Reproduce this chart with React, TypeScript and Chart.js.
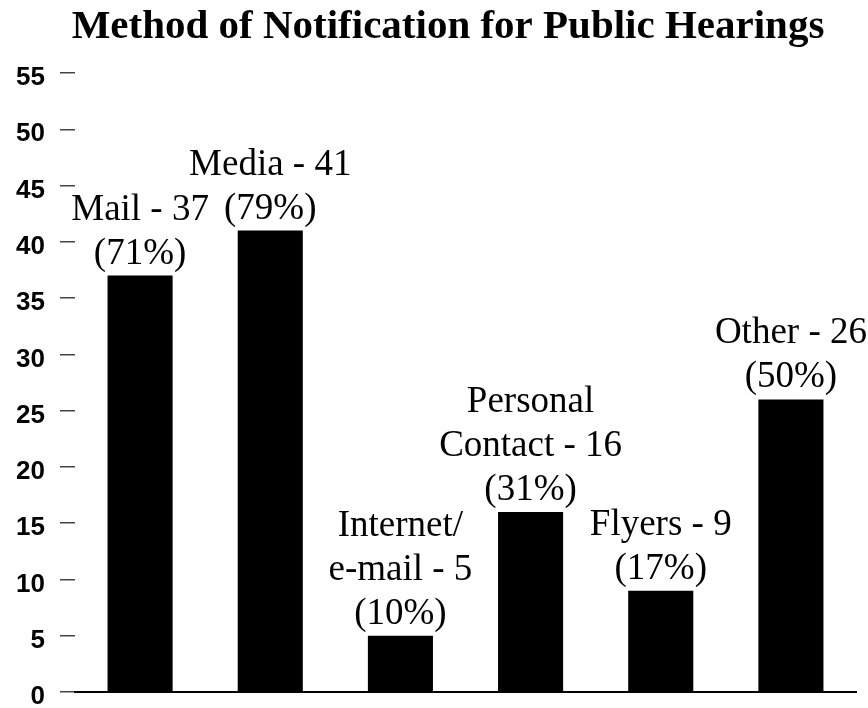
import { useEffect, useRef } from "react";
import { Chart, registerables } from "chart.js";

Chart.register(...registerables);

const TITLE = "Method of Notification for Public Hearings";
const categoryLines: string[][] = [
  ["Mail"],
  ["Media"],
  ["Internet/", "e-mail"],
  ["Personal", "Contact"],
  ["Flyers"],
  ["Other"],
];
const counts = [37, 41, 5, 16, 9, 26];
const percents = [71, 79, 10, 31, 17, 50];
const yMin = 0;
const yMax = 55;
const yStep = 5;

const labelFont = '37px "Liberation Serif", "Times New Roman", serif';

const barLabelPlugin = {
  id: "barLabels",
  afterDatasetsDraw(chart: any) {
    const ctx = chart.ctx;
    const meta = chart.getDatasetMeta(0);
    ctx.save();
    ctx.font = labelFont;
    ctx.fillStyle = "#000";
    ctx.textAlign = "center";
    ctx.textBaseline = "alphabetic";
    meta.data.forEach((el: any, i: number) => {
      const name = categoryLines[i];
      const lines = [
        ...name.slice(0, -1),
        `${name[name.length - 1]} - ${counts[i]}`,
        `(${percents[i]}%)`,
      ];
      const lh = 44;
      let y = el.y - 12;
      for (let k = lines.length - 1; k >= 0; k--) {
        ctx.fillText(lines[k], el.x, y);
        y -= lh;
      }
    });
    ctx.restore();
  },
};

const titlePlugin = {
  id: "customTitle",
  afterDraw(chart: any) {
    const ctx = chart.ctx;
    ctx.save();
    ctx.font = 'bold 41px "Liberation Serif", "Times New Roman", serif';
    ctx.fillStyle = "#000";
    ctx.textAlign = "center";
    ctx.textBaseline = "alphabetic";
    ctx.fillText(TITLE, 448, 38);
    ctx.restore();
  },
};

export default function App() {
  const ref = useRef<HTMLCanvasElement | null>(null);

  useEffect(() => {
    document.body.style.margin = "0";
    const canvas = ref.current;
    if (!canvas) return;
    const chart = new Chart(canvas, {
      type: "bar",
      data: {
        labels: categoryLines.map((l) => l.join(" ")),
        datasets: [
          {
            data: counts,
            backgroundColor: "#000",
            borderWidth: 0,
            barPercentage: 0.5,
            categoryPercentage: 1.0,
          },
        ],
      },
      options: {
        responsive: false,
        animation: false,
        devicePixelRatio: 1,
        layout: { padding: { top: 73, right: 12, bottom: 16, left: 0 } },
        plugins: {
          legend: { display: false },
          tooltip: { enabled: false },
          title: { display: false },
        },
        scales: {
          x: {
            type: "category",
            offset: true,
            ticks: { display: false },
            grid: { display: false },
            border: { display: true, color: "#000", width: 2 },
            afterFit: (s: any) => {
              s.height = 0;
              s.paddingLeft = 0;
              s.paddingRight = 0;
            },
          },
          y: {
            min: yMin,
            max: yMax,
            ticks: {
              stepSize: yStep,
              color: "#000",
              padding: 15,
              labelOffset: 5,
              font: { family: '"Liberation Sans", Arial, sans-serif', size: 26, weight: "bold" },
            },
            grid: {
              display: true,
              drawOnChartArea: false,
              drawTicks: true,
              tickLength: 15,
              color: "#444",
              lineWidth: 1.5,
            },
            border: { display: false },
            afterFit: (s: any) => {
              s.width = 75;
              s.paddingTop = 0;
              s.paddingBottom = 0;
            },
          },
        },
      },
      plugins: [barLabelPlugin, titlePlugin],
    });
    return () => chart.destroy();
  }, []);

  return (
    <div style={{ width: 868, height: 708 }}>
      <canvas ref={ref} width={868} height={708} style={{ display: "block" }} />
    </div>
  );
}
